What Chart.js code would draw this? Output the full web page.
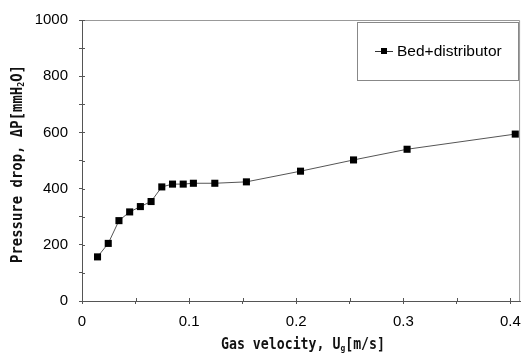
<!DOCTYPE html>
<html>
<head>
<meta charset="utf-8">
<script src="https://cdn.jsdelivr.net/npm/chart.js@4"></script>
<style>
    html, body { margin: 0; padding: 0; background: #fff; }
    #wrap { width: 530px; height: 354px; }
</style>
</head>
<body>
<div id="wrap"><canvas id="dpChart" width="530" height="354"></canvas></div>
<script>
const velocity = [0.0145, 0.0245, 0.0345, 0.0445, 0.0545, 0.0645, 0.0745, 0.0845, 0.0945, 0.104, 0.124, 0.1535, 0.204, 0.2535, 0.3035, 0.4045];
const pressureDrop = [157, 205, 286, 317, 336, 354, 406, 416, 416, 419, 419, 424, 462, 502, 540, 594];
const seriesLabel = 'Bed+distributor';
const xTitle = ['Gas velocity, U', 'g', '[m/s]'];
const yTitle = ['Pressure drop, \u0394P[mmH', '2', 'O]'];

const tickFont = { family: '"Liberation Sans", Arial, sans-serif', size: 15 };
const titleFont = 'bold 15px "DejaVu Sans Mono", monospace';
const subFont = 'bold 9px "DejaVu Sans Mono", monospace';

// title with a subscript part, squeezed to the given width
function drawSubText(ctx, parts, cx, cy, width) {
    ctx.font = titleFont;
    const w0 = ctx.measureText(parts[0]).width;
    const w2 = ctx.measureText(parts[2]).width;
    ctx.font = subFont;
    const w1 = ctx.measureText(parts[1]).width;
    const total = w0 + w1 + w2;
    ctx.save();
    ctx.translate(cx, cy);
    ctx.scale(width / total, 1);
    let x = -total / 2;
    ctx.textBaseline = 'middle';
    ctx.textAlign = 'left';
    ctx.font = titleFont;
    ctx.fillText(parts[0], x, 0);
    x += w0;
    ctx.font = subFont;
    ctx.fillText(parts[1], x, 4);
    x += w1;
    ctx.font = titleFont;
    ctx.fillText(parts[2], x, 0);
    ctx.restore();
}

const framePlugin = {
    id: 'frame',
    afterDraw(chart) {
        const ctx = chart.ctx;
        const a = chart.chartArea;
        ctx.save();
        // top / right frame
        ctx.strokeStyle = '#999';
        ctx.lineWidth = 1;
        ctx.beginPath();
        ctx.moveTo(a.left, a.top + 0.5);
        ctx.lineTo(a.right - 0.5, a.top + 0.5);
        ctx.lineTo(a.right - 0.5, a.bottom);
        ctx.stroke();

        // inner half of the tick marks
        ctx.strokeStyle = '#555';
        ctx.beginPath();
        chart.scales.x.ticks.forEach(t => {
            const px = Math.round(chart.scales.x.getPixelForValue(t.value)) + 0.5;
            ctx.moveTo(px, a.bottom);
            ctx.lineTo(px, a.bottom - 3);
        });
        chart.scales.y.ticks.forEach(t => {
            const py = Math.round(chart.scales.y.getPixelForValue(t.value)) + 0.5;
            ctx.moveTo(a.left, py);
            ctx.lineTo(a.left + 3, py);
        });
        ctx.stroke();

        // legend box
        const lx = 357, ly = 22, lw = 161, lh = 58;
        ctx.strokeStyle = '#888';
        ctx.strokeRect(lx + 0.5, ly + 0.5, lw, lh);
        const my = ly + lh / 2;
        ctx.strokeStyle = '#333';
        ctx.beginPath();
        ctx.moveTo(375, my + 0.5);
        ctx.lineTo(393, my + 0.5);
        ctx.stroke();
        ctx.fillStyle = '#000';
        ctx.fillRect(381, my - 3, 6, 6);
        ctx.font = '15.5px "Liberation Sans", Arial, sans-serif';
        ctx.textAlign = 'left';
        ctx.textBaseline = 'middle';
        ctx.fillText(chart.data.datasets[0].label, 397, my + 1);

        // axis titles
        ctx.fillStyle = '#111';
        drawSubText(ctx, xTitle, 303, 345, 164);
        ctx.translate(18, 164);
        ctx.rotate(-Math.PI / 2);
        drawSubText(ctx, yTitle, 0, 0, 198);
        ctx.restore();
    }
};

new Chart(document.getElementById('dpChart').getContext('2d'), {
    type: 'scatter',
    data: {
        datasets: [{
            label: seriesLabel,
            data: velocity.map((v, i) => ({ x: v, y: pressureDrop[i] })),
            showLine: true,
            borderColor: '#555',
            borderWidth: 1,
            pointStyle: 'rect',
            pointRadius: 5,
            pointBackgroundColor: '#000',
            pointBorderColor: '#000',
            pointBorderWidth: 0
        }]
    },
    options: {
        responsive: false,
        animation: false,
        layout: { padding: { top: 15, right: 6, left: 0, bottom: 0 } },
        plugins: {
            legend: { display: false },
            tooltip: { enabled: false }
        },
        scales: {
            x: {
                type: 'linear',
                min: 0,
                max: 0.409,
                afterFit(scale) { scale.height = 53; },
                border: { display: true, color: '#555', width: 1 },
                grid: { drawOnChartArea: false, tickLength: 3, color: '#555' },
                ticks: {
                    stepSize: 0.05,
                    includeBounds: false,
                    autoSkip: false,
                    maxRotation: 0,
                    padding: 9,
                    color: '#000',
                    font: tickFont,
                    callback: v => (Math.round(v * 100) % 10 === 0 ? String(Math.round(v * 10) / 10) : '')
                }
            },
            y: {
                min: 0,
                max: 1000,
                afterFit(scale) { scale.width = 82; },
                border: { display: true, color: '#555', width: 1 },
                grid: { drawOnChartArea: false, tickLength: 3, color: '#555' },
                ticks: {
                    stepSize: 100,
                    autoSkip: false,
                    padding: 11,
                    color: '#000',
                    font: tickFont,
                    callback: v => (v % 200 === 0 ? String(v) : '')
                }
            }
        }
    },
    plugins: [framePlugin]
});
</script>
</body>
</html>
